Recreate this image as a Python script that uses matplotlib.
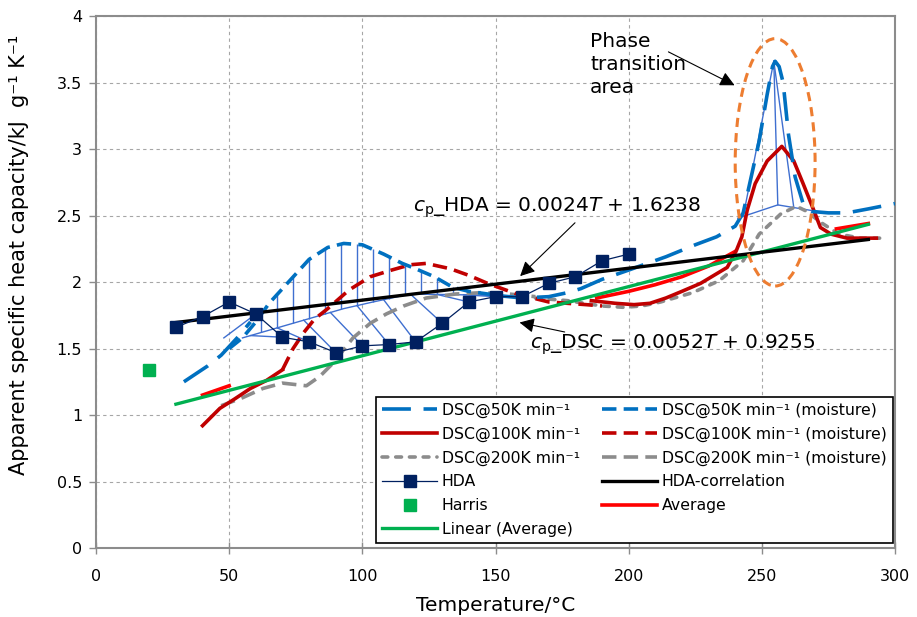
import numpy as np
import matplotlib
matplotlib.use("Agg")
import matplotlib.pyplot as plt
from matplotlib.patches import Ellipse

plt.rcParams["font.family"] = ["DejaVu Sans"]
plt.rcParams["mathtext.fontset"] = "dejavusans"

nan = np.nan

# DSC @ 50 K/min
dsc50_T = [33, 42, 47, 53, 58, nan,
           150, 160, 170, 177, 182, 190, 200, 214, 225, 233, 240, 243, 246, 249,
           252, 254, 255, 256.5, 258, 260, 262.5, 265.5, 269, 275, 282, 290, 300]
dsc50_cp = [1.25, 1.37, 1.45, 1.58, 1.70, nan,
            1.90, 1.88, 1.89, 1.92, 1.95, 2.02, 2.09, 2.19, 2.28, 2.34, 2.42, 2.52, 2.79, 3.06,
            3.41, 3.62, 3.66, 3.62, 3.50, 3.11, 2.79, 2.59, 2.53, 2.52, 2.52, 2.55, 2.59]

# DSC @ 50 K/min (moisture)
dsc50m_T = [50, 55, 60, 65, 70, 75, 80, 87, 93, 100, 108, 115, 120, 127, 134, 140, 147, 152]
dsc50m_cp = [1.50, 1.58, 1.70, 1.84, 1.95, 2.06, 2.17, 2.26, 2.29, 2.28, 2.21, 2.14, 2.10,
             2.04, 1.96, 1.93, 1.91, 1.90]

# DSC @ 100 K/min
dsc100_T = [40, 46.5, 52, 58, 64, 70, nan,
            186, 195, 202, 208, 214, 220, 227, 232, 237, 240.5, 242.5, 244.5, 247.5, 252,
            257.5, 262, 265.5, 269.5, 272, 276, 282, 293]
dsc100_cp = [0.92, 1.05, 1.12, 1.20, 1.26, 1.34, nan,
             1.86, 1.84, 1.83, 1.84, 1.88, 1.93, 1.99, 2.05, 2.11, 2.24, 2.34, 2.54, 2.74, 2.91,
             3.02, 2.91, 2.74, 2.54, 2.41, 2.36, 2.33, 2.33]

# DSC @ 100 K/min (moisture)
dsc100m_T = [70, 74, 78, 82, 87, 95, 103, 111, 118, 124, 133, 140, 147, 158, 170, 184, 190]
dsc100m_cp = [1.34, 1.50, 1.62, 1.72, 1.80, 1.94, 2.04, 2.09, 2.13, 2.14, 2.10, 2.05, 1.99,
              1.91, 1.85, 1.83, 1.82]

# DSC @ 200 K/min
dsc200_T = [165, 177, 190, 198, 205, 212, 224, 234, 243, 249, 257, 263, 267, 272, 279, 287, 297]
dsc200_cp = [1.88, 1.86, 1.82, 1.81, 1.82, 1.85, 1.92, 2.01, 2.16, 2.36, 2.51, 2.57, 2.53, 2.45,
             2.36, 2.33, 2.33]

# DSC @ 200 K/min (moisture)
dsc200m_T = [47, 55, 62.7, 70, 79, 84, 89, 96.5, 103, 109, 115.5, 124, 135, 145, 155, 165]
dsc200m_cp = [1.07, 1.13, 1.20, 1.24, 1.22, 1.29, 1.39, 1.58, 1.69, 1.76, 1.82, 1.88, 1.91,
              1.92, 1.91, 1.89]

# HDA measurements
hda_T = [30, 40, 50, 60, 70, 80, 90, 100, 110, 120, 130, 140, 150, 160, 170, 180, 190, 200]
hda_cp = [1.66, 1.74, 1.85, 1.76, 1.585, 1.55, 1.47, 1.52, 1.53, 1.55, 1.69, 1.85, 1.89, 1.89,
          1.99, 2.04, 2.16, 2.21]

# Harris
harris_T = [20]
harris_cp = [1.34]

# Average (visible parts)
avg_T = [40, 50, nan, 188, 200, 210, 220, 230, 240, nan, 278, 290]
avg_cp = [1.15, 1.22, nan, 1.88, 1.93, 1.98, 2.04, 2.12, 2.23, nan, 2.40, 2.44]

# correlations
corr_T = [30, 290]
hda_slope, hda_icpt = 0.0024, 1.6238
dsc_slope, dsc_icpt = 0.0052, 0.9255

# thin connector lines
hatch_T = [62, 68, 74, 80, 86, 92, 98, 104, 110, 116, 122, 128, 134, 140, 146]
hatch_base_T = [55, 93, 104, 118, 150]
hatch_base_cp = [1.58, 1.80, 1.85, 1.91, 1.90]
peak_base_T = [241, 256, 271]
peak_base_cp = [2.48, 2.58, 2.53]
peak_top = (254.5, 3.66)
peak_drop_T = [243, 256, 262]

fig = plt.figure(figsize=(9.17, 6.17), dpi=100)
ax = fig.add_axes([0.1047, 0.1118, 0.8713, 0.8622])

c_blue = "#0070C0"
c_dred = "#C00000"
c_gray = "#8C8C8C"
c_navy = "#002060"
c_thin = "#3F6FD0"
c_green = "#00B050"
c_red = "#FF0000"
c_orange = "#ED7D31"

# thin connector lines (drawn first)
up = np.interp(hatch_T, dsc50m_T, dsc50m_cp)
lo = np.interp(hatch_T, hatch_base_T, hatch_base_cp)
ax.vlines(hatch_T, lo, up, colors=c_thin, lw=1.0, zorder=2)
ax.plot(hatch_base_T, hatch_base_cp, color=c_thin, lw=1.0, zorder=2)
for t, c in zip(hda_T, hda_cp):
    if 60 <= t <= 150:
        b = np.interp(t - 12, hatch_base_T, hatch_base_cp)
        ax.plot([t - 12, t], [b, c], color=c_thin, lw=1.0, zorder=2)
ax.plot(peak_base_T, peak_base_cp, color=c_thin, lw=1.0, zorder=2)
for t in peak_drop_T:
    b = np.interp(t, peak_base_T, peak_base_cp)
    ax.plot([peak_top[0], t], [peak_top[1], b], color=c_thin, lw=1.0, zorder=2)

lw = 2.6
l200m, = ax.plot(dsc200m_T, dsc200m_cp, color=c_gray, lw=lw, dashes=(4, 2),
                 label="DSC@200K min\u207b\u00b9 (moisture)", zorder=3)
l200, = ax.plot(dsc200_T, dsc200_cp, color=c_gray, lw=lw, dashes=(1.6, 2.2),
                dash_capstyle="round", label="DSC@200K min\u207b\u00b9", zorder=3)
lavg, = ax.plot(avg_T, avg_cp, color=c_red, lw=lw, label="Average", zorder=3)
l100m, = ax.plot(dsc100m_T, dsc100m_cp, color=c_dred, lw=lw, dashes=(4, 2),
                 label="DSC@100K min\u207b\u00b9 (moisture)", zorder=3)
l100, = ax.plot(dsc100_T, dsc100_cp, color=c_dred, lw=lw,
                label="DSC@100K min\u207b\u00b9", zorder=3)
l50m, = ax.plot(dsc50m_T, dsc50m_cp, color=c_blue, lw=lw, dashes=(4, 2),
                label="DSC@50K min\u207b\u00b9 (moisture)", zorder=3.2)
l50, = ax.plot(dsc50_T, dsc50_cp, color=c_blue, lw=lw, dashes=(8, 3.5),
               label="DSC@50K min\u207b\u00b9", zorder=3.2)

corr_T = np.array(corr_T)
llin, = ax.plot(corr_T, dsc_slope * corr_T + dsc_icpt, color=c_green, lw=2.4,
                label="Linear (Average)", zorder=4)
lcorr, = ax.plot(corr_T, hda_slope * corr_T + hda_icpt, color="black", lw=2.4,
                 label="HDA-correlation", zorder=4.5)
lhda, = ax.plot(hda_T, hda_cp, color=c_navy, lw=0.9, marker="s", ms=9,
                mfc=c_navy, mec=c_navy, label="HDA", zorder=5)
lhar, = ax.plot(harris_T, harris_cp, ls="none", marker="s", ms=8.5, color=c_green,
                label="Harris", zorder=5)

ax.add_patch(Ellipse((255, 2.9), 30, 1.86, fill=False, ec=c_orange, lw=2.2,
                     ls=(0, (3, 2)), zorder=6))

# annotations
arrow = dict(arrowstyle="-|>", color="black", lw=0.8, mutation_scale=22)
ax.annotate("", xy=(158.5, 2.03), xytext=(180.6, 2.46), arrowprops=arrow, zorder=7)
ax.annotate("", xy=(158, 1.70), xytext=(177, 1.62), arrowprops=arrow, zorder=7)
ax.annotate("", xy=(240.7, 3.47), xytext=(214, 3.74), arrowprops=arrow, zorder=7)
ax.text(119, 2.56, r"$c_\mathrm{p}$_HDA = 0.0024$T$ + 1.6238", fontsize=14.5,
        va="center", ha="left", zorder=7)
ax.text(163, 1.525, r"$c_\mathrm{p}$_DSC = 0.0052$T$ + 0.9255", fontsize=14.5,
        va="center", ha="left", zorder=7)
ax.text(185.5, 3.88, "Phase\ntransition\narea", fontsize=14.5, va="top", ha="left",
        linespacing=1.25, zorder=7)

ax.set_xlim(0, 300)
ax.set_ylim(0, 4)
ax.set_xticks(np.arange(0, 301, 50))
ax.set_yticks(np.arange(0, 4.01, 0.5))
ax.set_yticklabels(["0", "0.5", "1", "1.5", "2", "2.5", "3", "3.5", "4"])
ax.grid(True, color="#A6A6A6", lw=0.8, ls=(0, (3, 3)))
ax.set_axisbelow(True)
for s in ax.spines.values():
    s.set_color("#8C8C8C")
    s.set_linewidth(1.5)
ax.tick_params(axis="x", direction="inout", length=8, width=1, color="#8C8C8C",
               labelsize=11.5, pad=11)
ax.tick_params(axis="y", direction="out", length=5, width=1, color="#8C8C8C",
               labelsize=11.5, pad=5)
ax.set_xlabel("Temperature/\u00b0C", fontsize=14.5)
ax.xaxis.set_label_coords(0.5, -0.09)
ax.set_ylabel("Apparent specific heat capacity/kJ  g\u207b\u00b9 K\u207b\u00b9", fontsize=15)
ax.yaxis.set_label_coords(-0.084, 0.551)

handles = [l50, l100, l200, lhda, lhar, llin, l50m, l100m, l200m, lcorr, lavg]
leg = ax.legend(handles=handles, ncol=2, loc="lower right",
                bbox_to_anchor=(0.9975, 0.0094), borderaxespad=0, fontsize=11.3,
                handlelength=3.5, handletextpad=0.3, labelspacing=0.55,
                columnspacing=1.4, fancybox=False, framealpha=1, edgecolor="black",
                borderpad=0.4)
leg.get_frame().set_linewidth(1.2)
leg.set_zorder(10)

fig.savefig("out.png", dpi=100)
